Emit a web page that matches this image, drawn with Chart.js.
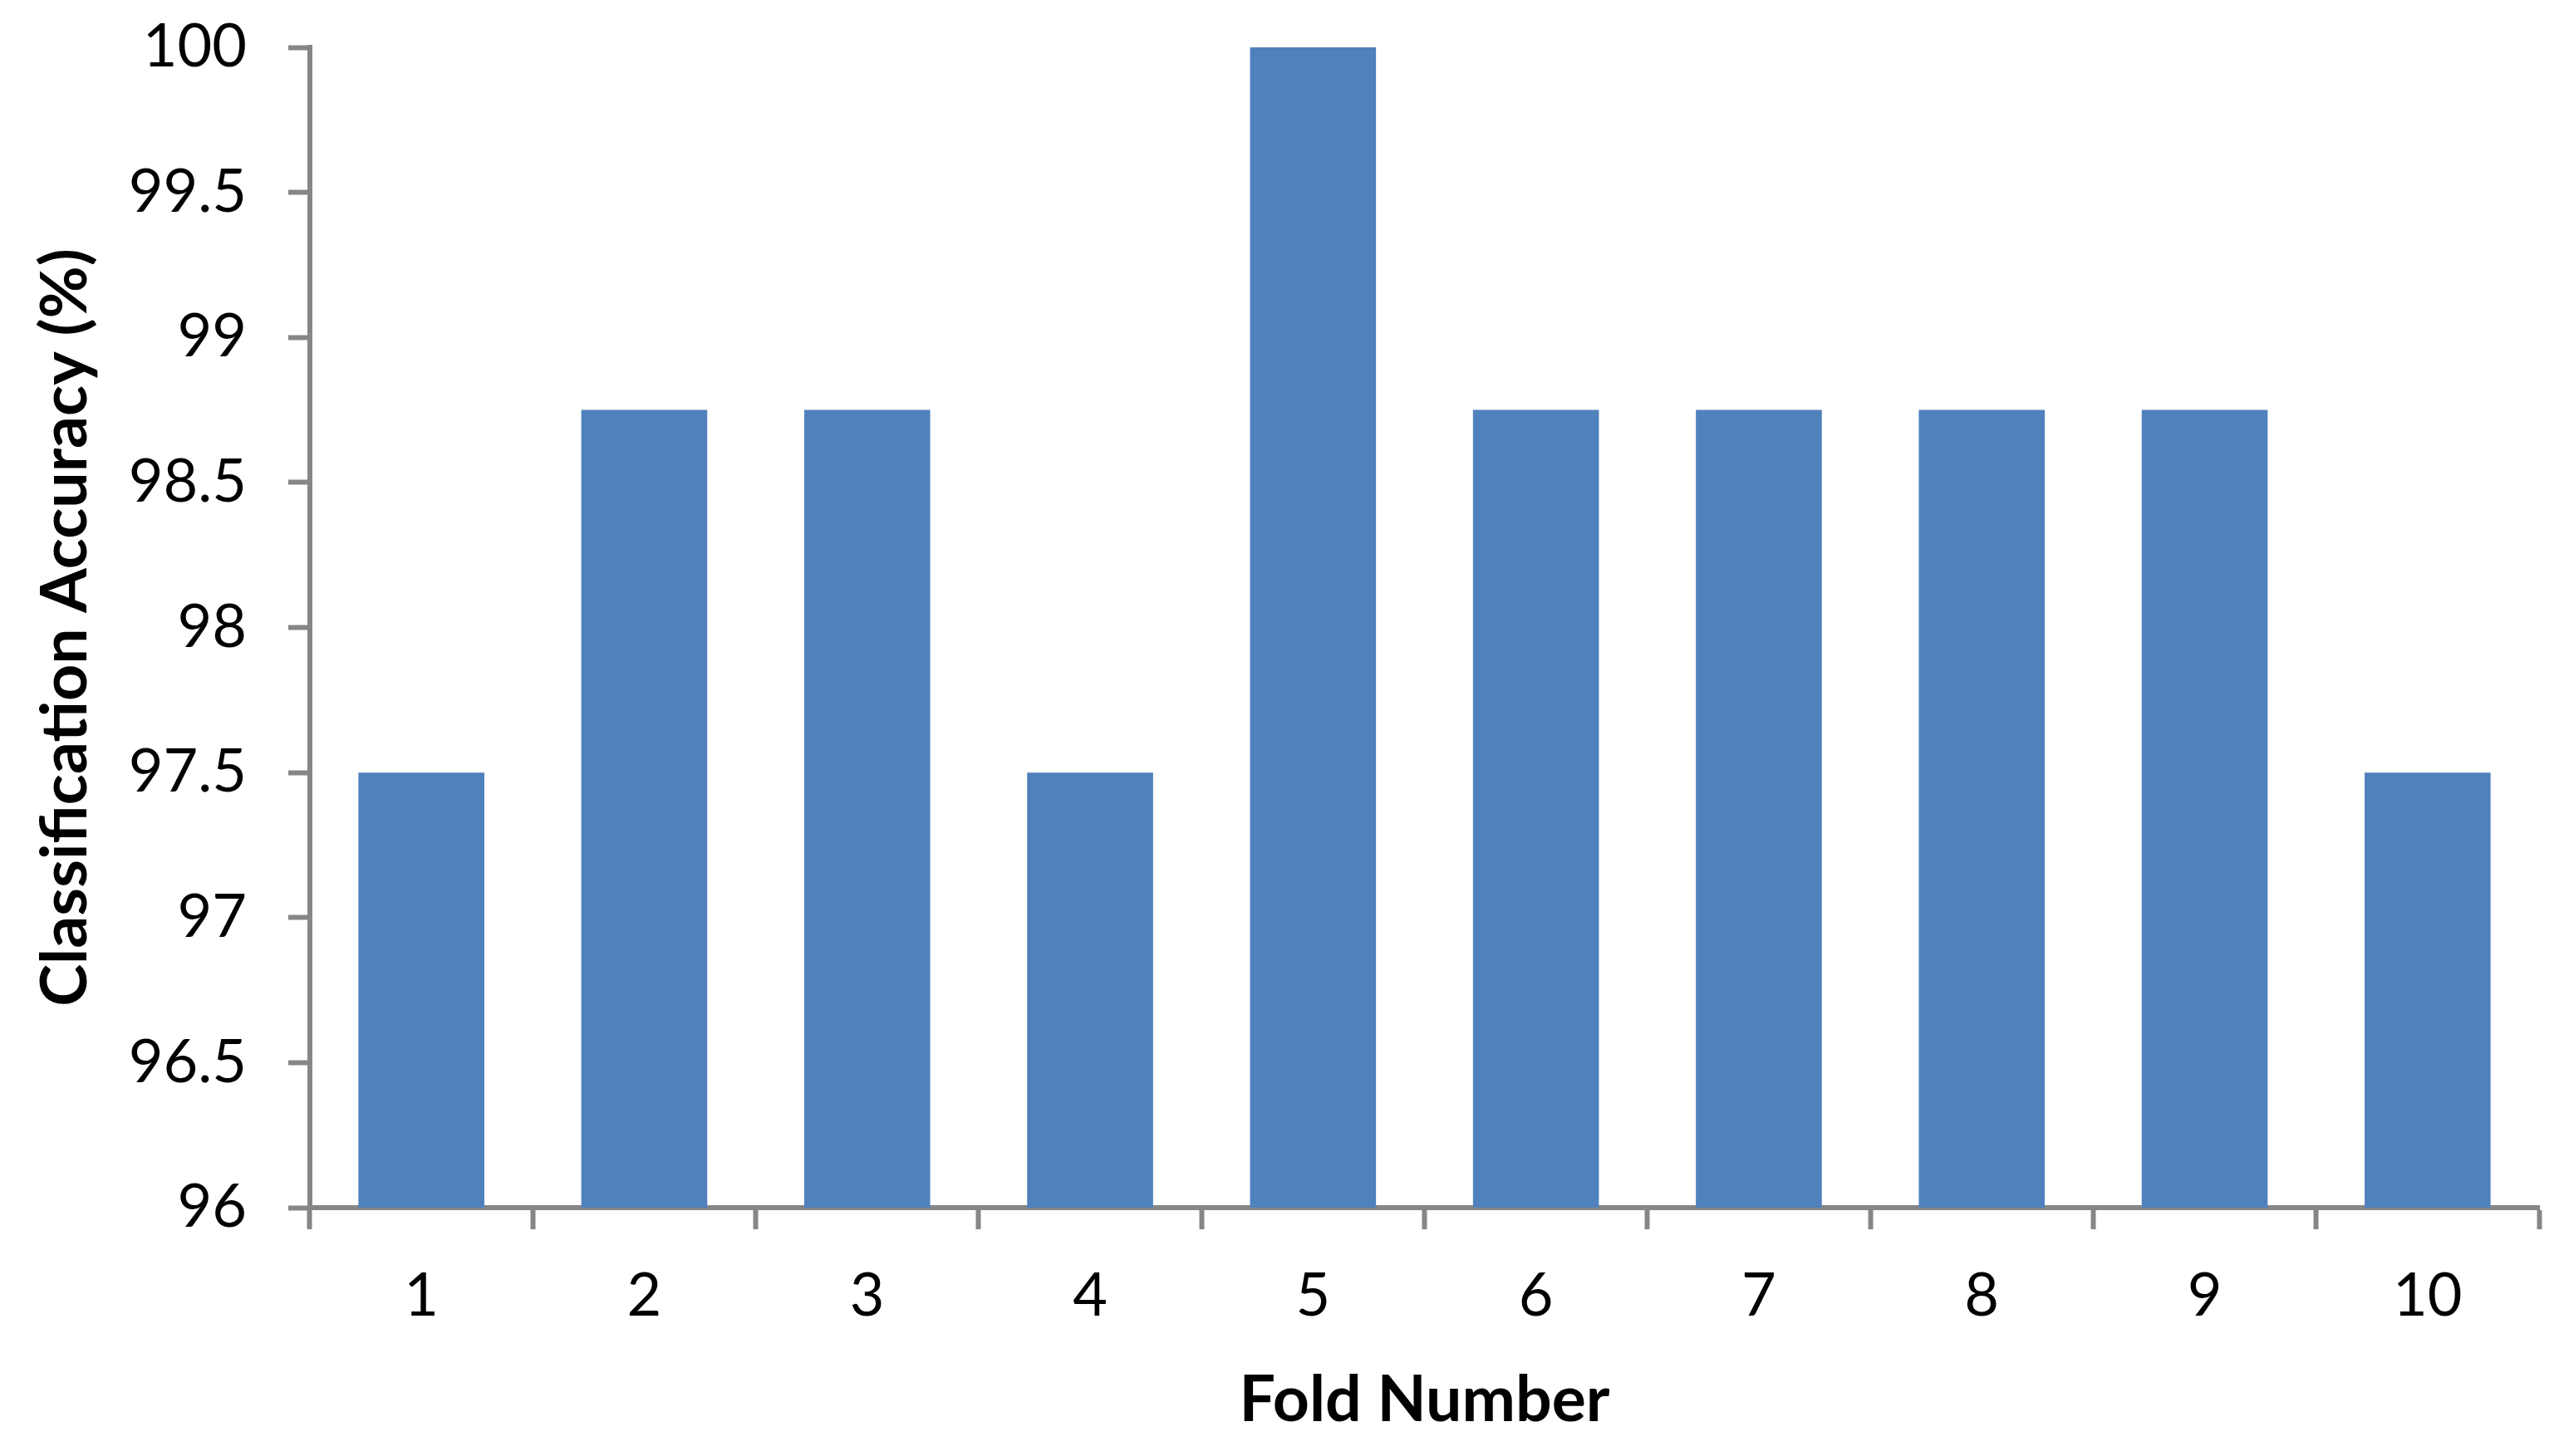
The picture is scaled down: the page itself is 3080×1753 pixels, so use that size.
<!DOCTYPE html>
<html>
<head>
<meta charset="utf-8">
<script src="https://cdn.jsdelivr.net/npm/chart.js@4"></script>
<style>
  html, body { margin: 0; padding: 0; background: #fff; }
  #wrap { width: 3080px; height: 1753px; }
</style>
</head>
<body>
<div id="wrap"><canvas id="chart" width="3080" height="1753"></canvas></div>
<script>
// fold numbers and their accuracy
const folds = ['1', '2', '3', '4', '5', '6', '7', '8', '9', '10'];
const accuracy = [97.5, 98.75, 98.75, 97.5, 100, 98.75, 98.75, 98.75, 98.75, 97.5];
const yMin = 96;
const yMax = 100;
const yStep = 0.5;

const axisGray = '#868686';
const fontFamily = 'Lato, "Open Sans", sans-serif';

const ctx = document.getElementById('chart').getContext('2d');

new Chart(ctx, {
    type: 'bar',
    data: {
        labels: folds,
        datasets: [{
            label: 'Classification Accuracy',
            data: accuracy,
            backgroundColor: '#4F81BD',
            borderWidth: 0,
            barPercentage: 0.565,
            categoryPercentage: 1.0
        }]
    },
    options: {
        responsive: false,
        animation: false,
        layout: {
            padding: { left: 0, right: 24, top: 57, bottom: 0 }
        },
        plugins: {
            legend: { display: false },
            tooltip: { enabled: false }
        },
        scales: {
            x: {
                grid: {
                    offset: true,
                    drawOnChartArea: false,
                    drawTicks: true,
                    tickLength: 26,
                    tickWidth: 6,
                    color: axisGray
                },
                border: { display: true, color: axisGray, width: 6 },
                ticks: {
                    color: '#000',
                    padding: 38,
                    font: { family: fontFamily, size: 72 }
                },
                title: {
                    display: true,
                    text: 'Fold Number',
                    color: '#000',
                    padding: { top: 0, bottom: 21 },
                    font: { family: fontFamily, size: 77, weight: 'bold' }
                },
                afterFit: (scale) => {
                    scale.height = 299;
                    scale.paddingLeft = 0;
                    scale.paddingRight = 0;
                }
            },
            y: {
                min: yMin,
                max: yMax,
                grid: {
                    drawOnChartArea: false,
                    drawTicks: true,
                    tickLength: 26,
                    tickWidth: 6,
                    color: axisGray
                },
                border: { display: true, color: axisGray, width: 6 },
                ticks: {
                    stepSize: yStep,
                    color: '#000',
                    padding: 50,
                    font: { family: fontFamily, size: 72 },
                    callback: (v) => String(v)
                },
                title: {
                    display: true,
                    text: 'Classification Accuracy (%)',
                    color: '#000',
                    padding: { top: 33, bottom: 0 },
                    font: { family: fontFamily, size: 77, weight: 'bold' }
                },
                afterFit: (scale) => {
                    scale.width = 373;
                    // top/bottom label overflow would push the plot down
                    scale.paddingTop = 0;
                    scale.paddingBottom = 0;
                }
            }
        }
    }
});
</script>
</body>
</html>
